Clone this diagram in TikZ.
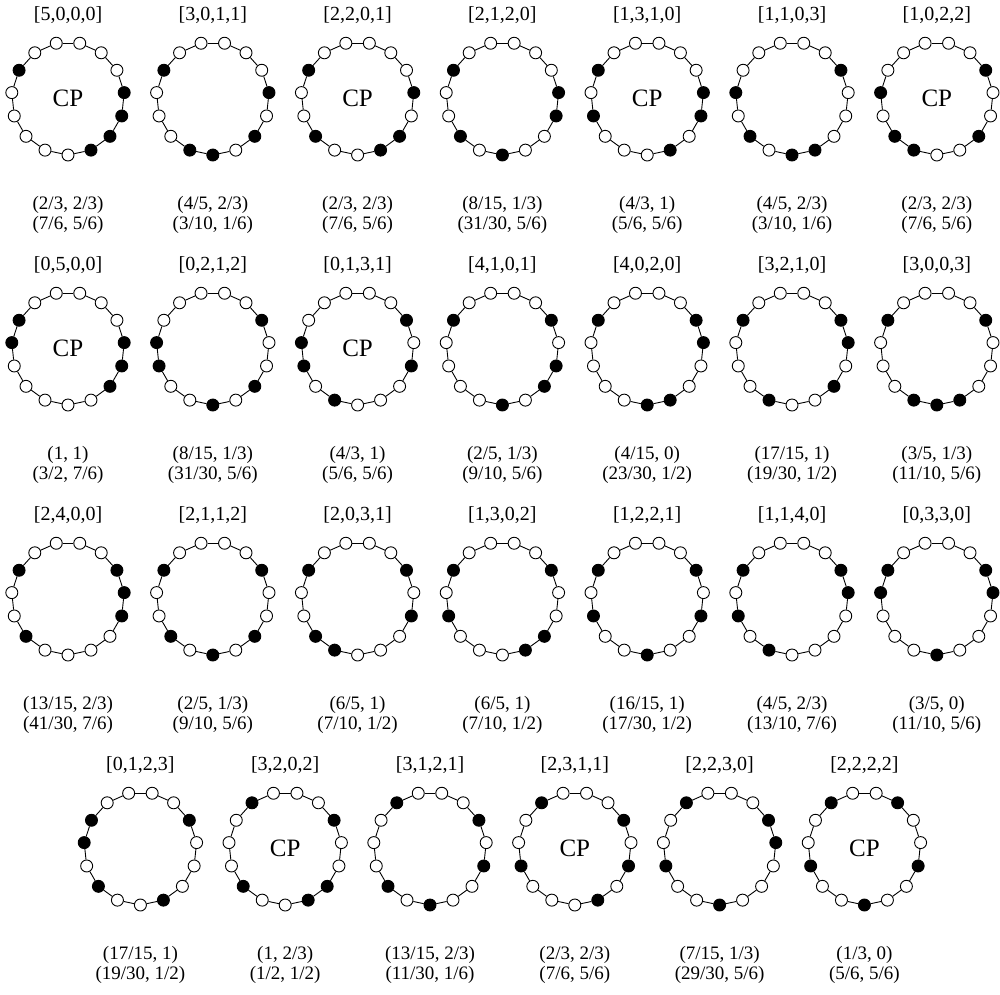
\documentclass[tikz,border=0pt]{standalone}
\usepackage{fontspec}
\setmainfont{Liberation Serif}
\usepackage{tikz}

% one necklace: name, x, y, gap label, black beads, two value lines, centre text
\newcommand{\necklace}[8]{%
  \coordinate (#1) at (#2,#3);
  \foreach \k [evaluate=\k as \ang using 102-24*(\k-1)] in {1,...,15}{
    \xdef\beadfill{white}
    \foreach \b in {#5}{\ifnum\k=\b\relax\xdef\beadfill{black}\fi}
    \node[bead, fill=\beadfill] (#1-\k) at ([shift={(\ang:56.5)}]#1) {};
  }
  \foreach \k [remember=\k as \p (initially 15)] in {1,...,15}
    \draw[link] (#1-\p) -- (#1-\k);
  \node[gaps] (#1-lab) at ([yshift=83.5]#1) {#4};
  \node[vals] (#1-val) at ([yshift=-116.5]#1) {#6\\#7};
  \if\relax\detokenize{#8}\relax\else
    \node[cp] (#1-cp) at (#1) {#8};
  \fi
}

\begin{document}
\begin{tikzpicture}[
x=1pt, y=1pt,
bead/.style={circle, draw, line width=0.9pt, minimum size=12pt, inner sep=0pt},
link/.style={line width=0.9pt},
gaps/.style={font=\fontsize{20}{22}\selectfont},
vals/.style={align=center, font=\fontsize{19}{20}\selectfont},
cp/.style={font=\fontsize{25}{28}\selectfont}
]
\useasboundingbox (0,0) rectangle (1000,-994);

% row 1
\necklace{a1}{68}{-98.5}{[5,0,0,0]}{5,6,7,8,14}{(2/3, 2/3)}{(7/6, 5/6)}{CP}
\necklace{a2}{212.8}{-98.5}{[3,0,1,1]}{5,7,9,10,14}{(4/5, 2/3)}{(3/10, 1/6)}{}
\necklace{a3}{357.6}{-98.5}{[2,2,0,1]}{5,7,8,11,14}{(2/3, 2/3)}{(7/6, 5/6)}{CP}
\necklace{a4}{502.4}{-98.5}{[2,1,2,0]}{5,6,9,11,14}{(8/15, 1/3)}{(31/30, 5/6)}{}
\necklace{a5}{647.2}{-98.5}{[1,3,1,0]}{5,6,8,12,14}{(4/3, 1)}{(5/6, 5/6)}{CP}
\necklace{a6}{792}{-98.5}{[1,1,0,3]}{4,8,9,11,13}{(4/5, 2/3)}{(3/10, 1/6)}{}
\necklace{a7}{936.8}{-98.5}{[1,0,2,2]}{4,7,10,11,13}{(2/3, 2/3)}{(7/6, 5/6)}{CP}

% row 2
\necklace{b1}{68}{-348.5}{[0,5,0,0]}{5,6,7,13,14}{(1, 1)}{(3/2, 7/6)}{CP}
\necklace{b2}{212.8}{-348.5}{[0,2,1,2]}{4,7,9,12,13}{(8/15, 1/3)}{(31/30, 5/6)}{}
\necklace{b3}{357.6}{-348.5}{[0,1,3,1]}{4,6,10,12,13}{(4/3, 1)}{(5/6, 5/6)}{CP}
\necklace{b4}{502.4}{-348.5}{[4,1,0,1]}{4,6,7,9,14}{(2/5, 1/3)}{(9/10, 5/6)}{}
\necklace{b5}{647.2}{-348.5}{[4,0,2,0]}{4,5,8,9,14}{(4/15, 0)}{(23/30, 1/2)}{}
\necklace{b6}{792}{-348.5}{[3,2,1,0]}{4,5,7,10,14}{(17/15, 1)}{(19/30, 1/2)}{}
\necklace{b7}{936.8}{-348.5}{[3,0,0,3]}{4,8,9,10,14}{(3/5, 1/3)}{(11/10, 5/6)}{}

% row 3
\necklace{c1}{68}{-598.5}{[2,4,0,0]}{4,5,6,11,14}{(13/15, 2/3)}{(41/30, 7/6)}{}
\necklace{c2}{212.8}{-598.5}{[2,1,1,2]}{4,7,9,11,14}{(2/5, 1/3)}{(9/10, 5/6)}{}
\necklace{c3}{357.6}{-598.5}{[2,0,3,1]}{4,6,10,11,14}{(6/5, 1)}{(7/10, 1/2)}{}
\necklace{c4}{502.4}{-598.5}{[1,3,0,2]}{4,7,8,12,14}{(6/5, 1)}{(7/10, 1/2)}{}
\necklace{c5}{647.2}{-598.5}{[1,2,2,1]}{4,6,9,12,14}{(16/15, 1)}{(17/30, 1/2)}{}
\necklace{c6}{792}{-598.5}{[1,1,4,0]}{4,5,10,12,14}{(4/5, 2/3)}{(13/10, 7/6)}{}
\necklace{c7}{936.8}{-598.5}{[0,3,3,0]}{4,5,9,13,14}{(3/5, 0)}{(11/10, 5/6)}{}

% row 4
\necklace{d1}{140.4}{-848.5}{[0,1,2,3]}{4,8,11,13,14}{(17/15, 1)}{(19/30, 1/2)}{}
\necklace{d2}{285.2}{-848.5}{[3,2,0,2]}{4,7,8,11,15}{(1, 2/3)}{(1/2, 1/2)}{CP}
\necklace{d3}{430}{-848.5}{[3,1,2,1]}{4,6,9,11,15}{(13/15, 2/3)}{(11/30, 1/6)}{}
\necklace{d4}{574.8}{-848.5}{[2,3,1,1]}{4,6,8,12,15}{(2/3, 2/3)}{(7/6, 5/6)}{CP}
\necklace{d5}{719.6}{-848.5}{[2,2,3,0]}{4,5,9,12,15}{(7/15, 1/3)}{(29/30, 5/6)}{}
\necklace{d6}{864.4}{-848.5}{[2,2,2,2]}{3,6,9,12,15}{(1/3, 0)}{(5/6, 5/6)}{CP}
\end{tikzpicture}
\end{document}
